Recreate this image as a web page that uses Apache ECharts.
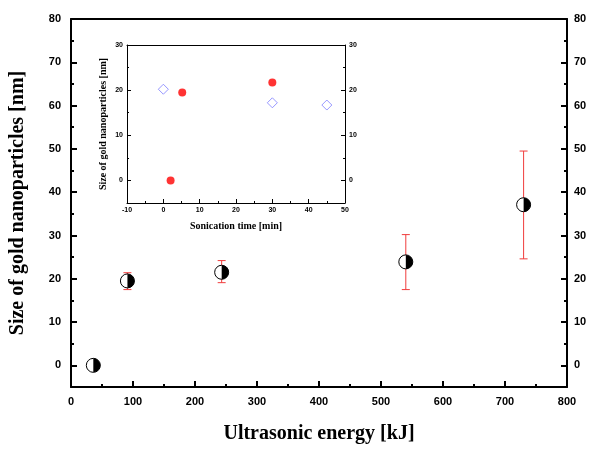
<!DOCTYPE html>
<html>
<head>
<meta charset="utf-8">
<script src="https://cdn.jsdelivr.net/npm/echarts@6/dist/echarts.min.js"></script>
<style>html,body{margin:0;padding:0;background:#fff}#c{width:600px;height:451px}</style>
</head>
<body>
<div id="c"></div>
<script>
// Main chart data
const energy = [36, 91, 243, 540, 730];
const sizeNm = [0, 19.5, 21.5, 23.9, 37.1];
const errLow = [null, 17.5, 19.1, 17.5, 24.6];
const errHigh = [null, 21.4, 24.2, 30.2, 49.5];
const mainYTicks = [0, 10, 20, 30, 40, 50, 60, 70, 80];
const mainYMinor = [5, 15, 25, 35, 45, 55, 65, 75];

// Inset data
const timeRed = [2, 5.2, 30];
const sizeRed = [0, 19.5, 21.7];
const timeBlue = [0, 30, 45];
const sizeBlue = [20.2, 17.2, 16.7];
const insetYTicks = [0, 10, 20, 30];
const insetYMinor = [5, 15, 25];

const SANS = '"Liberation Sans", Arial, sans-serif';
const SERIF = '"Liberation Serif", "Times New Roman", serif';

const mainData = energy.map((e, i) => [e, sizeNm[i]]);
const errData = [];
energy.forEach((e, i) => { if (errLow[i] != null) errData.push([e, sizeNm[i], errLow[i], errHigh[i]]); });

function yLabels(grid, pos, min, max, ticks, fs, lw, margin) {
  return {
    type: 'value', gridIndex: grid, position: pos, min: min, max: max,
    splitLine: { show: false },
    axisLine: { show: true, onZero: false, lineStyle: { color: '#000', width: lw } },
    axisTick: { show: false },
    axisLabel: { show: true, customValues: ticks, margin: margin, fontFamily: SANS, fontWeight: 'bold', fontSize: fs, color: '#000' }
  };
}
function yTicks(grid, pos, min, max, ticks, len, lw) {
  return {
    type: 'value', gridIndex: grid, position: pos, min: min, max: max,
    splitLine: { show: false },
    axisLine: { show: false, onZero: false },
    axisTick: { show: true, inside: true, length: len, customValues: ticks, lineStyle: { color: '#000', width: lw } },
    axisLabel: { show: false }
  };
}

const chart = echarts.init(document.getElementById('c'), null, { renderer: 'canvas' });
chart.setOption({
  animation: false,
  backgroundColor: '#fff',
  grid: [
    { left: 71, right: 33, top: 19, bottom: 64, show: false },
    { left: 127, right: 255, top: 45, bottom: 248, show: true, backgroundColor: '#fff', borderWidth: 0 }
  ],
  xAxis: [
    {
      type: 'value', gridIndex: 0, position: 'bottom', min: 0, max: 800, interval: 100,
      name: 'Ultrasonic energy [kJ]', nameLocation: 'middle', nameGap: 37,
      nameTextStyle: { fontFamily: SERIF, fontWeight: 'bold', fontSize: 20, color: '#000' },
      splitLine: { show: false },
      axisLine: { onZero: false, lineStyle: { color: '#000', width: 2 } },
      axisTick: { inside: true, length: 6, lineStyle: { color: '#000', width: 2 } },
      minorTick: { show: true, splitNumber: 2, length: 3, lineStyle: { color: '#000', width: 2 } },
      axisLabel: { margin: 9, fontFamily: SANS, fontWeight: 'bold', fontSize: 11, color: '#000' }
    },
    {
      type: 'value', gridIndex: 0, position: 'top', min: 0, max: 800,
      splitLine: { show: false },
      axisLine: { onZero: false, lineStyle: { color: '#000', width: 2 } },
      axisTick: { show: false }, axisLabel: { show: false }
    },
    {
      type: 'value', gridIndex: 1, position: 'bottom', min: -10, max: 50, interval: 10,
      name: 'Sonication time [min]', nameLocation: 'middle', nameGap: 18,
      nameTextStyle: { fontFamily: SERIF, fontWeight: 'bold', fontSize: 10, color: '#000' },
      splitLine: { show: false },
      axisLine: { onZero: false, lineStyle: { color: '#000', width: 1 } },
      axisTick: { inside: true, length: 4, lineStyle: { color: '#000', width: 1 } },
      minorTick: { show: true, splitNumber: 2, length: 2, lineStyle: { color: '#000', width: 1 } },
      axisLabel: { margin: 4, fontFamily: SANS, fontWeight: 'bold', fontSize: 7, color: '#000' }
    },
    {
      type: 'value', gridIndex: 1, position: 'top', min: -10, max: 50,
      splitLine: { show: false },
      axisLine: { onZero: false, lineStyle: { color: '#000', width: 1 } },
      axisTick: { show: false }, axisLabel: { show: false }
    }
  ],
  yAxis: [
    Object.assign(yLabels(0, 'left', -5, 80, mainYTicks, 11, 2, 10), {
      name: 'Size of gold nanoparticles [nm]', nameLocation: 'middle', nameGap: 43,
      nameTextStyle: { fontFamily: SERIF, fontWeight: 'bold', fontSize: 20, color: '#000' }
    }),
    yLabels(0, 'right', -5, 80, mainYTicks, 11, 2, 7),
    yTicks(0, 'left', -5, 80, mainYTicks, 6, 2),
    yTicks(0, 'right', -5, 80, mainYTicks, 6, 2),
    yTicks(0, 'left', -5, 80, mainYMinor, 3, 2),
    yTicks(0, 'right', -5, 80, mainYMinor, 3, 2),
    Object.assign(yLabels(1, 'left', -5, 30, insetYTicks, 7, 1, 4), {
      name: 'Size of gold nanoparticles [nm]', nameLocation: 'middle', nameGap: 19,
      nameTextStyle: { fontFamily: SERIF, fontWeight: 'bold', fontSize: 10, color: '#000' }
    }),
    yLabels(1, 'right', -5, 30, insetYTicks, 7, 1, 4),
    yTicks(1, 'left', -5, 30, insetYTicks, 4, 1),
    yTicks(1, 'right', -5, 30, insetYTicks, 4, 1),
    yTicks(1, 'left', -5, 30, insetYMinor, 2, 1),
    yTicks(1, 'right', -5, 30, insetYMinor, 2, 1)
  ],
  series: [
    {
      type: 'custom', xAxisIndex: 0, yAxisIndex: 0, z: 3,
      data: errData,
      renderItem: function (params, api) {
        const x = api.value(0);
        const p1 = api.coord([x, api.value(2)]);
        const p2 = api.coord([x, api.value(3)]);
        const st = { stroke: '#f03c3c', lineWidth: 1 };
        return {
          type: 'group',
          children: [
            { type: 'line', shape: { x1: p1[0], y1: p1[1], x2: p2[0], y2: p2[1] }, style: st },
            { type: 'line', shape: { x1: p1[0] - 4, y1: p1[1], x2: p1[0] + 4, y2: p1[1] }, style: st },
            { type: 'line', shape: { x1: p2[0] - 4, y1: p2[1], x2: p2[0] + 4, y2: p2[1] }, style: st }
          ]
        };
      }
    },
    {
      type: 'custom', xAxisIndex: 0, yAxisIndex: 0, z: 4,
      data: mainData,
      renderItem: function (params, api) {
        const p = api.coord([api.value(0), api.value(1)]);
        const r = 7;
        return {
          type: 'group',
          children: [
            { type: 'circle', shape: { cx: p[0], cy: p[1], r: r }, style: { fill: '#fff', stroke: '#000', lineWidth: 1 } },
            { type: 'sector', shape: { cx: p[0], cy: p[1], r0: 0, r: r, startAngle: -Math.PI / 2, endAngle: Math.PI / 2, clockwise: true }, style: { fill: '#000' } }
          ]
        };
      }
    },
    {
      type: 'scatter', xAxisIndex: 2, yAxisIndex: 6, z: 6,
      symbol: 'circle', symbolSize: 8,
      itemStyle: { color: '#ff0000' },
      data: timeRed.map((t, i) => [t, sizeRed[i]])
    },
    {
      type: 'scatter', xAxisIndex: 2, yAxisIndex: 6, z: 6,
      symbol: 'diamond', symbolSize: 10,
      itemStyle: { color: '#fff', borderColor: '#7d7dff', borderWidth: 1 },
      data: timeBlue.map((t, i) => [t, sizeBlue[i]])
    }
  ]
});
</script>
</body>
</html>
